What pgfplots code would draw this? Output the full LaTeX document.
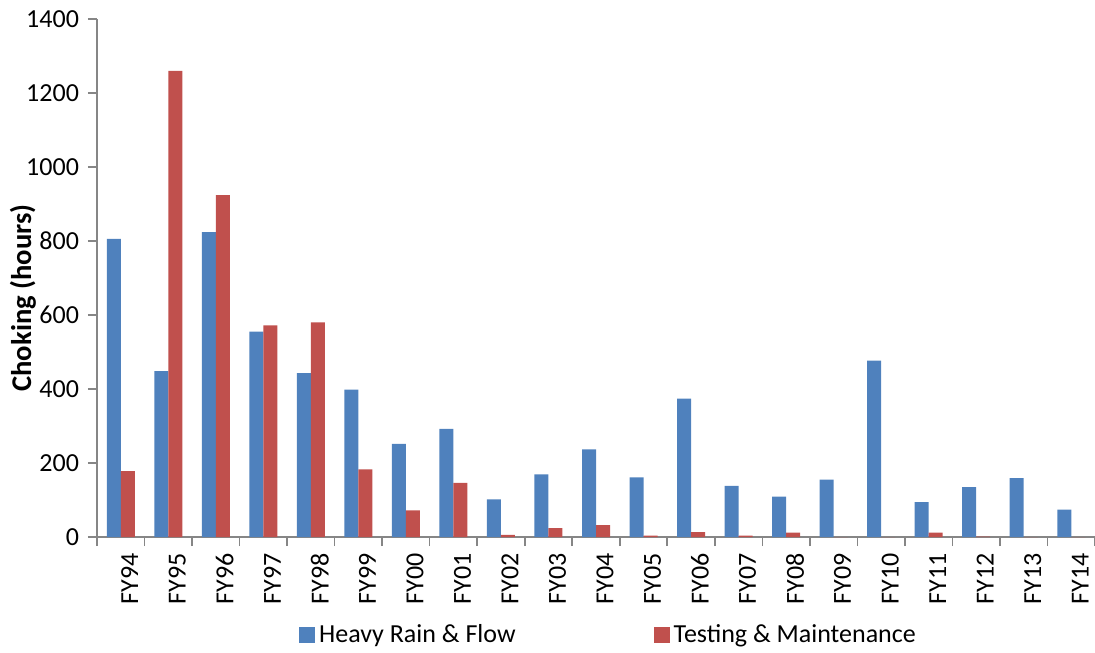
\documentclass[border=0pt]{standalone}
\usepackage{fontspec}
\setmainfont{Carlito}
\usepackage{pgfplots}
\pgfplotsset{compat=1.18}
\definecolor{cblue}{HTML}{4F81BD}
\definecolor{cred}{HTML}{C0504D}
\definecolor{axgray}{HTML}{868686}
\begin{document}
\begin{tikzpicture}
\begin{axis}[
  scale only axis, width=499pt, height=259pt,
  ybar=0pt, bar width=7pt,
  xmin=-0.5, xmax=20.5, ymin=0, ymax=1400,
  xtick={0,...,20},
  xticklabels={FY94,FY95,FY96,FY97,FY98,FY99,FY00,FY01,FY02,FY03,FY04,FY05,FY06,FY07,FY08,FY09,FY10,FY11,FY12,FY13,FY14},
  minor xtick={-0.5,0.5,...,20.5},
  ytick={0,200,...,1400},
  axis x line*=bottom, axis y line*=left,
  axis line style={draw=axgray, line width=0.8pt},
  tick align=outside,
  major tick length=4.5pt, minor tick length=4.5pt,
  major x tick style={draw=none},
  minor x tick style={draw=axgray, line width=0.8pt},
  major y tick style={draw=axgray, line width=0.8pt},
  /pgf/number format/assume math mode=true,
  /pgf/number format/1000 sep={},
  tick label style={font=\fontsize{13}{15}\selectfont, black},
  yticklabel style={xshift=-1pt},
  xticklabel style={rotate=90, anchor=east, yshift=-4.5pt},
  ylabel={\bfseries Choking (hours)},
  ylabel style={font=\fontsize{14.3}{16}\selectfont, at={(axis description cs:-0.0742,0.4614)}, anchor=center},
  legend style={draw=none, at={(0.5135,-0.189)}, anchor=center, font=\fontsize{13}{15}\selectfont,
    legend columns=2, /tikz/every even column/.append style={column sep=67pt}},
  legend image code/.code={\fill[#1] (0pt,-4pt) rectangle (8pt,4pt);},
]
\addplot[fill=cblue, draw=none] coordinates {
(0,806) (1,448) (2,824) (3,555) (4,443) (5,398) (6,252) (7,292) (8,102) (9,169)
(10,237) (11,161) (12,374) (13,138) (14,109) (15,155) (16,477) (17,94) (18,135) (19,159) (20,74)};
\addlegendentry{Heavy Rain \& Flow}
\addplot[fill=cred, draw=none] coordinates {
(0,178) (1,1260) (2,924) (3,572) (4,580) (5,183) (6,72) (7,146) (8,6) (9,24)
(10,32) (11,4) (12,13) (13,4) (14,12) (15,0) (16,0) (17,12) (18,1) (19,0) (20,0)};
\addlegendentry{Testing \& Maintenance}
\end{axis}
\pgfresetboundingbox
\path[use as bounding box] (-48.5pt,-57.5pt) rectangle (499pt,268.5pt);
\end{tikzpicture}
\end{document}
